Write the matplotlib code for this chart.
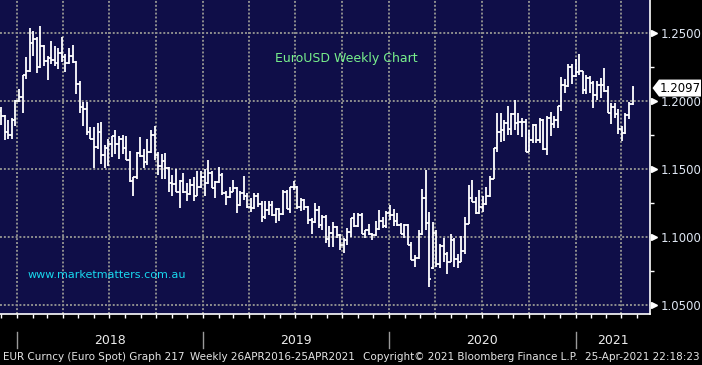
import numpy as np
import pandas as pd
import matplotlib
matplotlib.use('Agg')
import matplotlib.pyplot as plt
import matplotlib.dates as mdates
from matplotlib.patches import Polygon

# weekly bars, dated on the Friday
weeks = pd.date_range('2017-12-01', '2021-04-23', freq='W-FRI')

opens = [
    # 2017
    1.1930, 1.1890, 1.1770, 1.1750, 1.1860,
    # 2018
    1.2005, 1.2030, 1.2195, 1.2220, 1.2425, 1.2460, 1.2250, 1.2405, 1.2295, 1.2315,
    1.2305, 1.2285, 1.2355, 1.2325, 1.2280, 1.2330, 1.2290, 1.2130, 1.1960, 1.1945,
    1.1770, 1.1725, 1.1660, 1.1770, 1.1605, 1.1655, 1.1685, 1.1745, 1.1685, 1.1720,
    1.1655, 1.1565, 1.1410, 1.1440, 1.1620, 1.1600, 1.1555, 1.1625, 1.1750, 1.1605,
    1.1525, 1.1560, 1.1510, 1.1400, 1.1390, 1.1335, 1.1415, 1.1335, 1.1315, 1.1380,
    1.1305, 1.1370,
    # 2019
    1.1440, 1.1395, 1.1470, 1.1365, 1.1405, 1.1455, 1.1325, 1.1295, 1.1335, 1.1365,
    1.1235, 1.1325, 1.1300, 1.1220, 1.1215, 1.1300, 1.1245, 1.1150, 1.1200, 1.1235,
    1.1160, 1.1205, 1.1170, 1.1335, 1.1210, 1.1370, 1.1370, 1.1225, 1.1270, 1.1220,
    1.1125, 1.1110, 1.1200, 1.1090, 1.1145, 1.0985, 1.1030, 1.1075, 1.1015, 1.0940,
    1.0980, 1.1040, 1.1140, 1.1080, 1.1165, 1.1020, 1.1050, 1.1020, 1.1015, 1.1060,
    1.1120, 1.1080,
    # 2020
    1.1175, 1.1160, 1.1120, 1.1090, 1.1025, 1.1090, 1.0945, 1.0830, 1.0845, 1.1025,
    1.1285, 1.1105, 1.0770, 1.1030, 1.0805, 1.0935, 1.0875, 1.0820, 1.0980, 1.0840,
    1.0820, 1.0900, 1.1100, 1.1290, 1.1255, 1.1180, 1.1220, 1.1245, 1.1300, 1.1430,
    1.1655, 1.1775, 1.1785, 1.1840, 1.1795, 1.1905, 1.1840, 1.1845, 1.1845, 1.1630,
    1.1715, 1.1825, 1.1715, 1.1860, 1.1645, 1.1875, 1.1835, 1.1860, 1.1965, 1.2120,
    1.2110, 1.2255,
    # 2021
    1.2185, 1.2215, 1.2220, 1.2080, 1.2170, 1.2135, 1.2045, 1.2120, 1.2120, 1.2075,
    1.1915, 1.1955, 1.1905, 1.1795, 1.1765, 1.1900, 1.1980,
]
highs = [
    # 2017
    1.1960, 1.1900, 1.1865, 1.1880, 1.2010,
    # 2018
    1.2090, 1.2195, 1.2325, 1.2537, 1.2520, 1.2475, 1.2555, 1.2415, 1.2335, 1.2445,
    1.2410, 1.2390, 1.2475, 1.2345, 1.2395, 1.2415, 1.2295, 1.2150, 1.1995, 1.1995,
    1.1810, 1.1810, 1.1840, 1.1850, 1.1675, 1.1720, 1.1745, 1.1790, 1.1745, 1.1750,
    1.1745, 1.1635, 1.1445, 1.1625, 1.1735, 1.1645, 1.1720, 1.1790, 1.1815, 1.1625,
    1.1610, 1.1620, 1.1515, 1.1455, 1.1500, 1.1420, 1.1470, 1.1400, 1.1425, 1.1445,
    1.1485, 1.1485,
    # 2019
    1.1500, 1.1570, 1.1490, 1.1415, 1.1515, 1.1470, 1.1340, 1.1370, 1.1420, 1.1370,
    1.1340, 1.1450, 1.1325, 1.1290, 1.1325, 1.1325, 1.1265, 1.1265, 1.1265, 1.1265,
    1.1215, 1.1215, 1.1350, 1.1350, 1.1370, 1.1410, 1.1375, 1.1285, 1.1280, 1.1230,
    1.1140, 1.1250, 1.1230, 1.1160, 1.1165, 1.1085, 1.1110, 1.1080, 1.1025, 1.0995,
    1.1065, 1.1140, 1.1180, 1.1175, 1.1175, 1.1055, 1.1095, 1.1030, 1.1115, 1.1200,
    1.1150, 1.1190,
    # 2020
    1.1240, 1.1205, 1.1175, 1.1105, 1.1095, 1.1095, 1.0965, 1.0865, 1.1055, 1.1355,
    1.1495, 1.1185, 1.1110, 1.1050, 1.0950, 1.0990, 1.0890, 1.1020, 1.0990, 1.0875,
    1.1010, 1.1145, 1.1385, 1.1420, 1.1295, 1.1350, 1.1300, 1.1370, 1.1450, 1.1655,
    1.1910, 1.1915, 1.1865, 1.1965, 1.1915, 1.2010, 1.1915, 1.1880, 1.1870, 1.1785,
    1.1830, 1.1830, 1.1880, 1.1870, 1.1890, 1.1920, 1.1895, 1.1965, 1.2175, 1.2165,
    1.2275, 1.2275,
    # 2021
    1.2310, 1.2350, 1.2225, 1.2190, 1.2185, 1.2150, 1.2150, 1.2170, 1.2245, 1.2115,
    1.1990, 1.1990, 1.1945, 1.1815, 1.1915, 1.1995, 1.2115,
]
lows = [
    # 2017
    1.1825, 1.1715, 1.1720, 1.1720, 1.1815,
    # 2018
    1.1995, 1.1915, 1.2165, 1.2215, 1.2335, 1.2205, 1.2245, 1.2260, 1.2155, 1.2275,
    1.2260, 1.2240, 1.2290, 1.2215, 1.2275, 1.2280, 1.2055, 1.1910, 1.1820, 1.1750,
    1.1720, 1.1510, 1.1645, 1.1540, 1.1510, 1.1525, 1.1590, 1.1615, 1.1575, 1.1610,
    1.1565, 1.1405, 1.1300, 1.1430, 1.1590, 1.1510, 1.1530, 1.1620, 1.1570, 1.1460,
    1.1430, 1.1430, 1.1335, 1.1300, 1.1335, 1.1215, 1.1325, 1.1265, 1.1310, 1.1265,
    1.1300, 1.1365,
    # 2019
    1.1305, 1.1390, 1.1360, 1.1290, 1.1400, 1.1310, 1.1235, 1.1285, 1.1330, 1.1175,
    1.1230, 1.1270, 1.1215, 1.1185, 1.1210, 1.1225, 1.1110, 1.1135, 1.1160, 1.1155,
    1.1105, 1.1115, 1.1165, 1.1205, 1.1180, 1.1350, 1.1210, 1.1195, 1.1200, 1.1100,
    1.1025, 1.1105, 1.1065, 1.1050, 1.0960, 1.0925, 1.0925, 1.0990, 1.0905, 1.0880,
    1.0940, 1.1000, 1.1075, 1.1075, 1.1020, 1.0990, 1.1015, 1.0980, 1.1010, 1.1055,
    1.1065, 1.1070,
    # 2020
    1.1125, 1.1085, 1.1085, 1.1020, 1.0990, 1.0945, 1.0830, 1.0778, 1.0840, 1.1015,
    1.1055, 1.0636, 1.0765, 1.0780, 1.0770, 1.0815, 1.0725, 1.0815, 1.0780, 1.0775,
    1.0815, 1.0875, 1.1095, 1.1255, 1.1170, 1.1170, 1.1185, 1.1240, 1.1295, 1.1425,
    1.1630, 1.1700, 1.1710, 1.1755, 1.1755, 1.1790, 1.1755, 1.1735, 1.1625, 1.1625,
    1.1690, 1.1690, 1.1690, 1.1640, 1.1605, 1.1745, 1.1800, 1.1800, 1.1925, 1.2060,
    1.2105, 1.2130,
    # 2021
    1.2175, 1.2190, 1.2055, 1.2055, 1.2060, 1.1950, 1.2010, 1.2025, 1.2070, 1.1915,
    1.1835, 1.1875, 1.1760, 1.1705, 1.1760, 1.1870, 1.1975,
]
closes = [
    # 2017
    1.1895, 1.1770, 1.1750, 1.1860, 1.2005,
    # 2018
    1.2030, 1.2195, 1.2220, 1.2425, 1.2460, 1.2250, 1.2405, 1.2295, 1.2315, 1.2305,
    1.2285, 1.2355, 1.2325, 1.2280, 1.2330, 1.2290, 1.2130, 1.1960, 1.1945, 1.1770,
    1.1725, 1.1660, 1.1770, 1.1605, 1.1655, 1.1685, 1.1745, 1.1685, 1.1720, 1.1655,
    1.1565, 1.1410, 1.1440, 1.1620, 1.1600, 1.1555, 1.1625, 1.1750, 1.1605, 1.1525,
    1.1560, 1.1510, 1.1400, 1.1390, 1.1335, 1.1415, 1.1335, 1.1315, 1.1380, 1.1305,
    1.1370, 1.1440,
    # 2019
    1.1395, 1.1470, 1.1365, 1.1405, 1.1455, 1.1325, 1.1295, 1.1335, 1.1365, 1.1235,
    1.1325, 1.1300, 1.1220, 1.1215, 1.1300, 1.1245, 1.1150, 1.1200, 1.1235, 1.1160,
    1.1205, 1.1170, 1.1335, 1.1210, 1.1370, 1.1370, 1.1225, 1.1270, 1.1220, 1.1125,
    1.1110, 1.1200, 1.1090, 1.1145, 1.0985, 1.1030, 1.1075, 1.1015, 1.0940, 1.0980,
    1.1040, 1.1140, 1.1080, 1.1165, 1.1020, 1.1050, 1.1020, 1.1015, 1.1060, 1.1120,
    1.1080, 1.1175,
    # 2020
    1.1160, 1.1120, 1.1090, 1.1025, 1.1090, 1.0945, 1.0830, 1.0845, 1.1025, 1.1285,
    1.1105, 1.0695, 1.1030, 1.0805, 1.0935, 1.0875, 1.0820, 1.0980, 1.0840, 1.0820,
    1.0900, 1.1100, 1.1290, 1.1255, 1.1180, 1.1220, 1.1245, 1.1300, 1.1430, 1.1655,
    1.1775, 1.1785, 1.1840, 1.1795, 1.1905, 1.1840, 1.1845, 1.1845, 1.1630, 1.1715,
    1.1825, 1.1715, 1.1860, 1.1645, 1.1875, 1.1835, 1.1860, 1.1965, 1.2120, 1.2110,
    1.2255, 1.2185,
    # 2021
    1.2215, 1.2220, 1.2080, 1.2170, 1.2135, 1.2045, 1.2120, 1.2120, 1.2075, 1.1915,
    1.1955, 1.1905, 1.1795, 1.1765, 1.1900, 1.1980, 1.2097,
]

price_levels = [1.05, 1.10, 1.15, 1.20, 1.25]
minor_levels = [1.075, 1.125, 1.175, 1.225]
years = ['2018', '2019', '2020', '2021']

navy = '#0f0e48'
W, H = 702, 365

fig = plt.figure(figsize=(W / 100, H / 100), dpi=100, facecolor='black')
ax = fig.add_axes([0, (H - 314.3) / H, 650 / W, 314.3 / H])
ax.set_facecolor(navy)

x = mdates.date2num(weeks)
jan18 = mdates.date2num(pd.Timestamp('2018-01-01'))
left = jan18 - 33.4
right = left + 1275.5
ax.set_xlim(left, right)
ax.set_ylim(1.0432, 1.2745)

# grid: quarters and 0.05 levels, dotted grey
quarters = mdates.date2num(pd.date_range('2018-01-01', '2021-04-01', freq='QS'))
grid_kw = dict(color='#8e8e8e', lw=1.4, ls=(0, (1.0, 1.0)), zorder=1)
for q in quarters:
    ax.axvline(q, **grid_kw)
for p in price_levels:
    ax.axhline(p, **grid_kw)

# OHLC bars
ax.vlines(x, lows, highs, color='white', lw=1.3, zorder=3)
ax.hlines(opens, x - 3.5, x, color='white', lw=1.3, zorder=3)
ax.hlines(closes, x, x + 3.5, color='white', lw=1.3, zorder=3)

# spines
for s in ['top', 'left']:
    ax.spines[s].set_visible(False)
ax.spines['bottom'].set_color('white')
ax.spines['right'].set_color('white')
ax.spines['bottom'].set_linewidth(1.2)
ax.spines['right'].set_linewidth(1.2)

# x ticks: monthly marks, no labels
months = mdates.date2num(pd.date_range('2017-12-01', '2021-05-01', freq='MS'))
ax.set_xticks(months)
ax.set_xticklabels([])
ax.tick_params(axis='x', direction='out', length=3, width=1, color='white')

# y axis on right
ax.yaxis.tick_right()
ax.set_yticks(price_levels)
ax.set_yticklabels([f'{p:.4f}' for p in price_levels])
ax.set_yticks(minor_levels, minor=True)
ax.tick_params(axis='y', which='major', length=0, pad=8, labelsize=8.5,
               labelcolor='#dfe7f3')
ax.tick_params(axis='y', which='minor', direction='out', length=3, width=1,
               color='white')
ax.plot(np.full(len(price_levels), 1.0055), price_levels, ls='none',
        marker='>', ms=5, color='white', transform=ax.get_yaxis_transform(),
        clip_on=False, zorder=5)

# year separators and labels below the axis
xt = ax.get_xaxis_transform()
year_starts = [mdates.date2num(pd.Timestamp(f'{y}-01-01')) for y in years]
for i, y in enumerate(years):
    ax.plot([year_starts[i]] * 2, [-0.056, -0.107], color='#9a9a9a', lw=1.0,
            transform=xt, clip_on=False)
    end = year_starts[i + 1] if i + 1 < len(years) else right
    ax.text((year_starts[i] + end) / 2, -0.082, y, transform=xt, ha='center',
            va='center', fontsize=9, color='#ececec')

# annotations
fig.text(346 / W, (H - 58.5) / H, 'EuroUSD Weekly Chart', ha='center',
         va='center', fontsize=9, color='#78f08c')
fig.text(28 / W, (H - 275) / H, 'www.marketmatters.com.au', ha='left',
         va='center', fontsize=8, color='#18d8ee')

# last price box
fig.canvas.draw()
yc = ax.transData.transform((x[-1], closes[-1]))[1]
pts = np.array([[652.5, yc], [659, yc + 8.5], [701, yc + 8.5],
                [701, yc - 8.5], [659, yc - 8.5]])
pts[:, 0] /= W
pts[:, 1] /= H
fig.patches.append(Polygon(pts, closed=True, facecolor='white',
                           edgecolor='none', transform=fig.transFigure,
                           zorder=6))
fig.text(680 / W, yc / H, f'{closes[-1]:.4f}', ha='center', va='center',
         fontsize=8.5, color='black', zorder=7)

# footer
fy = (H - 357) / H
fig.text(3 / W, fy, 'EUR Curncy (Euro Spot) Graph 217', ha='left', va='center',
         fontsize=7.5, color='#e4e4e4')
fig.text(190 / W, fy, 'Weekly 26APR2016-25APR2021', ha='left', va='center',
         fontsize=7.5, color='#e4e4e4')
fig.text(363 / W, fy, 'Copyright\u00a9 2021 Bloomberg Finance L.P.', ha='left',
         va='center', fontsize=7.5, color='#e4e4e4')
fig.text(585 / W, fy, '25-Apr-2021 22:18:23', ha='left', va='center',
         fontsize=7.5, color='#e4e4e4')

fig.savefig('out.png', dpi=100, facecolor='black')
